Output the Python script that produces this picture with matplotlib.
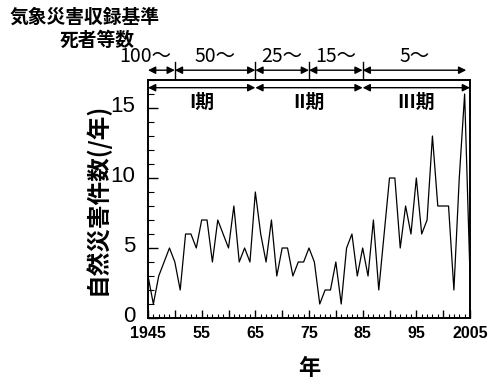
import matplotlib
matplotlib.use("Agg")
import matplotlib.pyplot as plt
from matplotlib.ticker import MultipleLocator
from matplotlib.transforms import offset_copy

plt.rcParams['font.family'] = ['Liberation Sans', 'Noto Sans CJK JP', 'DejaVu Sans']

# Annual count of natural disasters, 1945-2005
years = list(range(1945, 2006))
counts = [3, 1, 3, 4, 5, 4, 2, 6, 6, 5,
          7, 7, 4, 7, 6, 5, 8, 4, 5, 4,
          9, 6, 4, 7, 3, 5, 5, 3, 4, 4,
          5, 4, 1, 2, 2, 4, 1, 5, 6, 3,
          5, 3, 7, 2, 6, 10, 10, 5, 8, 6,
          10, 6, 7, 13, 8, 8, 8, 2, 10, 16,
          3]

xtick_positions = [1945, 1955, 1965, 1975, 1985, 1995, 2005]
xtick_labels = ['1945', '55', '65', '75', '85', '95', '2005']
ytick_positions = [0, 5, 10, 15]

# Recording criterion (deaths etc.) and the years each applied
criterion_edges = [1945, 1950, 1965, 1975, 1985, 2004.3]
criterion_labels = ['100〜', '50〜', '25〜', '15〜', '5〜']

# Periods
period_edges = [1945, 1965, 1985, 2005]
period_labels = ['I期', 'II期', 'III期']

JP = ['Noto Sans CJK JP', 'DejaVu Sans']

fig = plt.figure(figsize=(4.91, 3.83), dpi=100)
ax = fig.add_axes([148 / 491, 1 - 318 / 383, (470 - 148) / 491, (318 - 80) / 383])

ax.plot(years, counts, color='black', lw=0.9)

ax.set_xlim(1945, 2005)
ax.set_ylim(0, 17)

# Long ticks every 5 years, short ticks every year; labels on decades
ax.set_xticks(list(range(1945, 2006, 5)))
ax.set_xticklabels([xtick_labels[xtick_positions.index(y)] if y in xtick_positions else ''
                    for y in range(1945, 2006, 5)])
ax.xaxis.set_minor_locator(MultipleLocator(1))
ax.set_yticks(ytick_positions)
ax.yaxis.set_minor_locator(MultipleLocator(1))

ax.tick_params(axis='x', which='major', direction='in', length=6, width=1.0,
               labelsize=11.5, pad=6, top=False)
ax.tick_params(axis='x', which='minor', direction='in', length=3, width=0.8, top=False)
ax.tick_params(axis='y', which='major', direction='in', length=7, width=1.0,
               labelsize=16, pad=9, right=False)
ax.tick_params(axis='y', which='minor', direction='in', length=4, width=0.8, right=False)
for lbl in ax.get_xticklabels():
    lbl.set_fontweight('bold')
for lbl in ax.get_yticklabels():
    lbl.set_transform(offset_copy(lbl.get_transform(), fig=fig, x=0, y=4, units='dots'))

for s in ax.spines.values():
    s.set_linewidth(1.4)

ax.set_ylabel('自然災害件数(/年)', family=JP, fontsize=17, fontweight='bold', labelpad=1)
ax.set_xlabel('年', family=JP, fontsize=16, fontweight='bold', labelpad=11)

arrow_kw = dict(arrowstyle='<|-|>', color='black', lw=1.0,
                mutation_scale=11, shrinkA=0, shrinkB=0)

# Upper row: recording criterion
y_row = 17.7
for i, lab in enumerate(criterion_labels):
    x0, x1 = criterion_edges[i], criterion_edges[i + 1]
    ax.annotate('', xy=(x1, y_row), xytext=(x0, y_row),
                arrowprops=arrow_kw, annotation_clip=False)
    xm = (x0 + x1) / 2
    if i == 0:
        xm = 1944.5
    ax.text(xm, y_row + 0.2, lab, family=JP, fontsize=14,
            ha='center', va='bottom', clip_on=False)
for xe in criterion_edges[1:-1]:
    ax.plot([xe, xe], [17.1, 18.3], color='black', lw=1.0, clip_on=False)

# Inner row: periods
y_per = 16.45
for i, lab in enumerate(period_labels):
    x0, x1 = period_edges[i], period_edges[i + 1]
    ax.annotate('', xy=(x1, y_per), xytext=(x0, y_per),
                arrowprops=arrow_kw, annotation_clip=False)
    ax.text((x0 + x1) / 2, y_per - 0.4, lab, family=JP, fontsize=13.5,
            fontweight='bold', ha='center', va='top')

fig.text(10 / 491, 1 - 17 / 383, '気象災害収録基準', family=JP, fontsize=13.5,
         ha='left', va='center', fontweight='bold')
fig.text(60 / 491, 1 - 40 / 383, '死者等数', family=JP, fontsize=13.5,
         ha='left', va='center', fontweight='bold')

fig.savefig('out.png', dpi=100)
